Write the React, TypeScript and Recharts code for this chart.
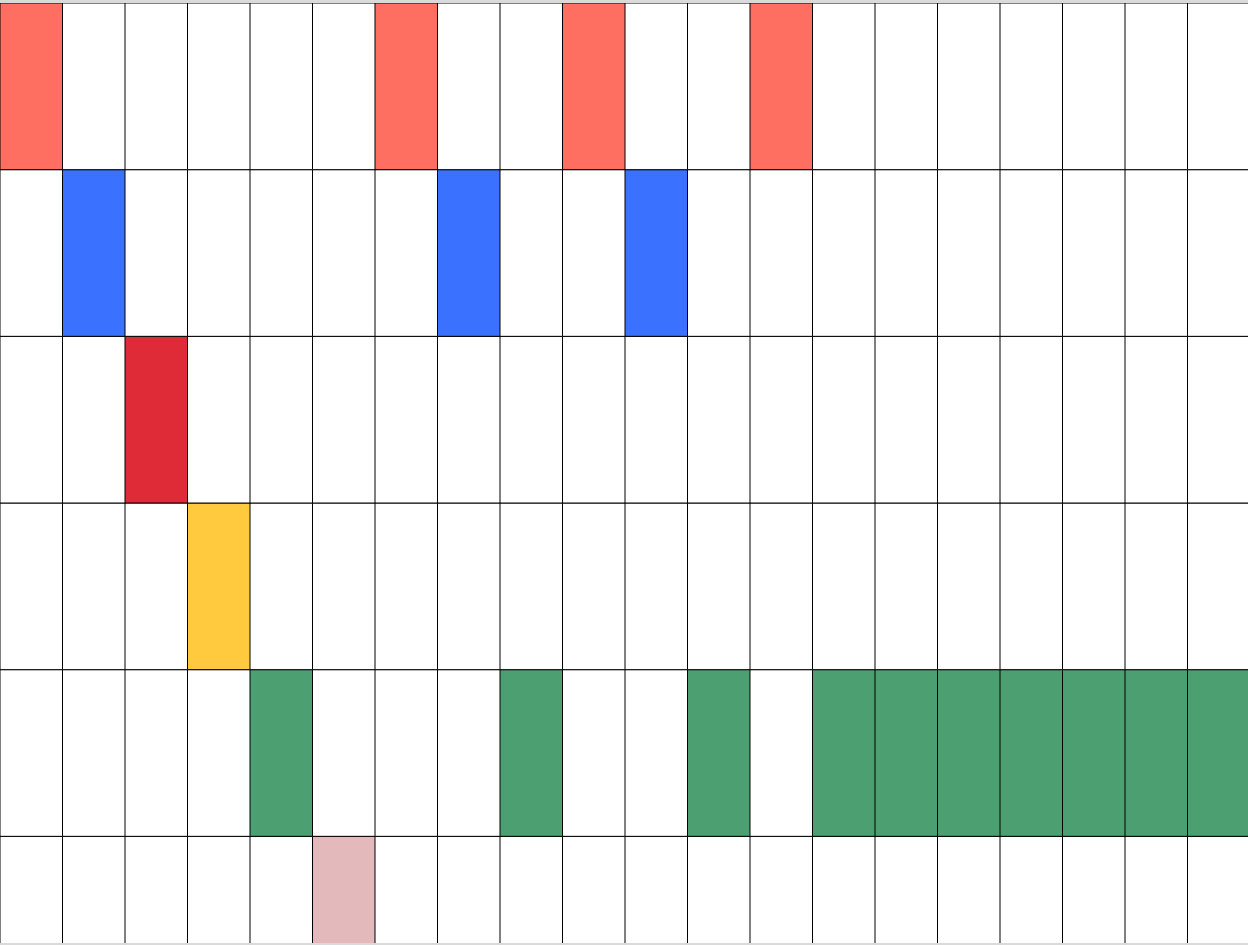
import { BarChart, Bar, XAxis, YAxis, Cell } from 'recharts'

// rows from top to bottom
const states = ['A', 'B', 'C', 'D', 'E', 'F']
const stateColors = ['#FF6F61', '#3A72FF', '#DF2B38', '#FFCA3E', '#4C9F70', '#E3B9BC']

// column index -> active state (index into states)
const steps = Array.from({ length: 20 }, (_, i) => `${i + 1}`)
const activeState = [0, 1, 2, 3, 4, 5, 0, 1, 4, 0, 1, 4, 0, 4, 4, 4, 4, 4, 4, 4]

const data = steps.map((step) => {
  const row: Record<string, string | number> = { step }
  states.forEach((s) => {
    row[s] = 1
  })
  return row
})

export default function App() {
  // stack from the bottom row upward
  const stackOrder = [...states].reverse()

  return (
    <div
      style={{
        position: 'absolute',
        left: 0,
        top: 0,
        width: 1248,
        height: 945,
        boxSizing: 'border-box',
        borderTop: '3px solid #dadada',
        borderBottom: '2px solid #dadada',
        overflow: 'hidden',
        background: '#fff',
      }}
    >
      <BarChart
        width={1250}
        height={1000}
        data={data}
        margin={{ top: 0, right: 0, bottom: 0, left: 0 }}
        barCategoryGap={0}
        barGap={0}
      >
        <XAxis dataKey="step" hide />
        <YAxis hide domain={[0, states.length]} />
        {stackOrder.map((s) => {
          const idx = states.indexOf(s)
          return (
            <Bar key={s} dataKey={s} stackId="grid" isAnimationActive={false} stroke="#000" strokeWidth={1}>
              {data.map((_, i) => (
                <Cell key={i} fill={activeState[i] === idx ? stateColors[idx] : '#fff'} />
              ))}
            </Bar>
          )
        })}
      </BarChart>
    </div>
  )
}
